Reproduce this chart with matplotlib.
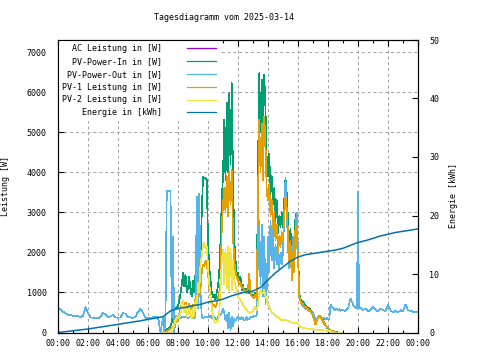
import numpy as np
import matplotlib
matplotlib.use("Agg")
import matplotlib.pyplot as plt
from matplotlib.ticker import MultipleLocator, FuncFormatter

title = "Tagesdiagramm vom 2025-03-14"
ylabel_left = "Leistung [W]"
ylabel_right = "Energie [kWh]"
labels = ["AC Leistung in [W]", "PV-Power-In in [W]", "PV-Power-Out in [W]",
          "PV-1 Leistung in [W]", "PV-2 Leistung in [W]", "Energie in [kWh]"]
colors = ["#9400d3", "#009e73", "#56b4e9", "#e69f00", "#f0e442", "#0072b2"]

# ---- time grids (hours) ----
night_times = np.arange(0, 7, 10 / 60)          # 00:00 .. 06:50, 10 min
day_times = np.arange(7, 19, 5 / 60)            # 07:00 .. 18:55, 5 min
evening_times = ["19:00", "19:10", "19:20", "19:30", "19:40", "19:50", "19:57",
                 "19:58", "20:02", "20:03", "20:10", "20:20", "20:30", "20:40",
                 "20:50", "21:00", "21:10", "21:20", "21:30", "21:40", "21:50",
                 "22:00", "22:10", "22:20", "22:30", "22:40", "22:50", "23:00",
                 "23:10", "23:20", "23:30", "23:40", "23:50", "24:00"]

# ---- PV-Power-Out (W) ----
pv_out_night = [600, 580, 520, 480, 440, 430,
                420, 400, 410, 390, 420, 630,
                480, 380, 370, 360, 350, 400,
                480, 460, 390, 400, 440, 380,
                370, 380, 480, 470, 390, 380,
                360, 390, 520, 590, 490, 360,
                350, 370, 380, 380, 390, 0]
pv_out_day = [380, 0, 420, 3530, 3530, 3530, 3530, 390, 2390, 0, 420, 380,
              400, 390, 360, 380, 400, 370, 390, 380, 350, 380, 400, 390,
              380, 360, 400, 3390, 600, 3470, 1000, 400, 350, 380, 400, 390,
              400, 380, 420, 350, 400, 380, 360, 330, 380, 400, 450, 500,
              600, 500, 300, 450, 100, 500, 60, 400, 150, 350, 300, 350,
              400, 350, 330, 380, 350, 300, 330, 380, 320, 350, 380, 400,
              380, 420, 400, 450, 2000, 2800, 1200, 2700, 900, 2400, 700, 1100,
              2400, 1500, 2800, 1800, 2600, 1600, 2200, 1700, 2100, 1600, 2000, 1700,
              2000, 3000, 3850, 3000, 2200, 1600, 2000, 1500, 2400, 1700, 2600, 2990,
              2000, 900, 780, 700, 650, 620, 600, 580, 560, 540, 520, 500,
              480, 400, 320, 330, 380, 420, 400, 380, 350, 370, 330, 360,
              340, 320, 700, 650, 600, 580, 560, 600, 550, 580, 540, 560]
pv_out_evening = [560, 540, 600, 850, 700, 620, 620,
                  3515, 3515, 600, 620, 560, 600, 520,
                  560, 640, 560, 520, 600, 560, 540,
                  680, 560, 500, 540, 500, 560, 520,
                  700, 560, 540, 520, 500, 520]

# ---- PV-Power-In (W), 5 min from 07:00 ----
pv_in = [0, 20, 40, 70, 100, 130, 160, 250, 450, 550, 600, 620,
         650, 800, 980, 1200, 1480, 1150, 1450, 1000, 1100, 1390, 1050, 900,
         1300, 1000, 1480, 1200, 2310, 1700, 1640, 3000, 3890, 3850, 3850, 3800,
         2300, 1640, 1300, 1000, 880, 950, 820, 1000, 1160, 1500, 2300, 3300,
         3900, 5300, 3800, 5730, 4000, 5970, 4200, 6220, 3890, 2310, 1810, 1470,
         1480, 1310, 1400, 1060, 1200, 1000, 1100, 980, 1150, 980, 1050, 900,
         950, 900, 1000, 900, 4140, 6470, 5000, 6300, 4800, 6430, 5550, 4300,
         3890, 4470, 3470, 3900, 3200, 3600, 2810, 3300, 2480, 2900, 2640, 3000,
         2640, 3300, 3850, 3470, 2800, 2140, 2600, 1640, 2300, 1800, 2970, 2600,
         2140, 980, 830, 800, 750, 720, 680, 650, 620, 600, 560, 520,
         480, 350, 230, 300, 400, 410, 390, 350, 300, 240, 180, 130,
         100, 80, 60, 40, 30, 20, 10, 5, 0, 0, 0, 0]

# ---- PV-1 Leistung (W) ----
pv1 = [0, 0, 10, 30, 50, 70, 90, 110, 140, 200, 250, 280,
       300, 420, 600, 700, 800, 700, 750, 640, 600, 720, 560, 600,
       700, 650, 850, 800, 1000, 900, 1100, 1500, 1700, 1650, 1800, 1700,
       1480, 1100, 900, 750, 650, 700, 640, 700, 850, 1000, 1230, 2600,
       3200, 3600, 3000, 3900, 2900, 4000, 3200, 4050, 2400, 1800, 1500, 1400,
       1310, 1200, 1250, 1100, 1150, 1000, 1050, 980, 1100, 1470, 1000, 900,
       900, 850, 950, 850, 3400, 5300, 4000, 5200, 3800, 5390, 4700, 3500,
       3300, 3700, 2900, 3300, 2600, 3000, 2300, 2700, 2000, 2400, 2140, 2500,
       2300, 2900, 3400, 3100, 2500, 1800, 2300, 1310, 2000, 1500, 2700, 2300,
       1900, 900, 780, 730, 700, 660, 640, 600, 580, 560, 520, 480,
       400, 300, 200, 270, 380, 400, 390, 340, 280, 210, 160, 150,
       120, 90, 60, 40, 25, 15, 5, 0, 0, 0, 0, 0]

# ---- PV-2 Leistung (W) ----
pv2 = [0, 0, 0, 0, 0, 0, 0, 20, 100, 200, 300, 380,
       350, 400, 480, 650, 800, 500, 700, 400, 480, 650, 450, 350,
       600, 400, 800, 650, 1230, 1000, 1730, 1900, 2200, 2230, 2100, 2150,
       1650, 1230, 900, 650, 400, 300, 250, 300, 280, 480, 1100, 1810,
       2060, 1200, 2100, 1100, 2140, 1050, 2100, 1060, 1800, 1300, 1150, 1060,
       900, 850, 800, 750, 700, 650, 600, 560, 520, 500, 480, 500,
       550, 600, 640, 550, 700, 980, 1060, 1000, 980, 1060, 900, 810,
       700, 640, 560, 500, 480, 450, 420, 400, 380, 350, 330, 310,
       310, 300, 310, 300, 290, 280, 260, 250, 240, 230, 230, 230,
       220, 150, 140, 130, 120, 110, 100, 100, 95, 90, 90, 85,
       80, 75, 70, 70, 65, 60, 60, 55, 55, 50, 50, 45,
       40, 35, 25, 15, 5, 0, 0, 0, 0, 0, 0, 0]

# ---- Energie (kWh), every 30 min ----
energy_times = np.arange(0, 24.01, 0.5)
energy = [0.0, 0.15, 0.3, 0.45, 0.6, 0.8, 1.0, 1.2, 1.4, 1.6, 1.8, 2.0,
          2.25, 2.45, 2.7, 3.7, 4.1, 4.3, 4.6, 4.8, 5.2, 5.4, 5.7, 6.2,
          6.6, 6.9, 7.1, 7.7, 9.0, 10.2, 11.2, 12.2, 12.9, 13.3, 13.5, 13.7,
          13.9, 14.1, 14.4, 14.9, 15.4, 15.7, 16.1, 16.5, 16.8, 17.1, 17.3, 17.5,
          17.7]


def hours(s):
    h, m = s.split(":")
    return int(h) + int(m) / 60


out_t = np.concatenate([night_times, day_times, [hours(s) for s in evening_times]])
out_v = np.array(pv_out_night + pv_out_day + pv_out_evening)

plt.rcParams["font.family"] = ["DejaVu Sans Mono"]
plt.rcParams["font.size"] = 6

fig = plt.figure(figsize=(4.8, 3.6), dpi=100)
ax = fig.add_axes([58 / 480, 27.5 / 360, 360 / 480, 292.5 / 360])
ax2 = ax.twinx()

lw = 0.5
kw = dict(lw=lw, antialiased=False)
h0, = ax.plot(out_t, out_v, color=colors[0], **kw)          # AC Leistung
h1, = ax.plot(day_times, pv_in, color=colors[1], **kw)
h2, = ax.plot(out_t, out_v, color=colors[2], **kw)
h3, = ax.plot(day_times, pv1, color=colors[3], **kw)
h4, = ax.plot(day_times, pv2, color=colors[4], **kw)
h5, = ax2.plot(energy_times, energy, color=colors[5], lw=1.1)

ax.set_xlim(0, 24)
ax.set_ylim(0, 7300)
ax2.set_ylim(0, 50)

ax.xaxis.set_major_locator(MultipleLocator(2))
ax.xaxis.set_minor_locator(MultipleLocator(1))
ax.xaxis.set_major_formatter(FuncFormatter(lambda v, p: f"{int(round(v)) % 24:02d}:00"))
ax.yaxis.set_major_locator(MultipleLocator(1000))
ax2.yaxis.set_major_locator(MultipleLocator(10))

ax.tick_params(axis="x", which="both", direction="in", top=True, pad=5)
ax.tick_params(axis="x", which="major", length=4, width=0.8)
ax.tick_params(axis="x", which="minor", length=2, width=0.8)
ax.tick_params(axis="y", which="major", direction="in", length=4, width=0.8, pad=8)
ax2.tick_params(axis="y", which="major", direction="in", length=4, width=0.8, pad=8)

for a in (ax, ax2):
    for sp in a.spines.values():
        sp.set_linewidth(0.8)
        sp.set_color("black")

ax.grid(True, which="major", color="#a0a0a0", linestyle=(0, (3, 3)), linewidth=0.7)
ax.set_axisbelow(True)

ax.set_ylabel(ylabel_left)
ax.yaxis.set_label_coords(-48 / 360, 0.5)
ax2.set_ylabel(ylabel_right)
ax2.yaxis.set_label_coords(391 / 360, 0.47)
fig.text(224 / 480, 1 - 18 / 360, title, ha="center", va="center")

width = max(len(s) for s in labels)
leg = ax2.legend([h0, h1, h2, h3, h4, h5], [s.rjust(width) for s in labels],
                 loc="upper left", bbox_to_anchor=(0, 1),
                 frameon=True, fancybox=False, facecolor="white", edgecolor="none",
                 framealpha=1.0, markerfirst=False, borderpad=0.5, borderaxespad=0,
                 handlelength=3.4, handletextpad=3.0, labelspacing=0.46)
leg.set_zorder(2)
for line in leg.get_lines():
    line.set_antialiased(True)
    line.set_linewidth(0.9)

fig.savefig("out.png", dpi=100)
